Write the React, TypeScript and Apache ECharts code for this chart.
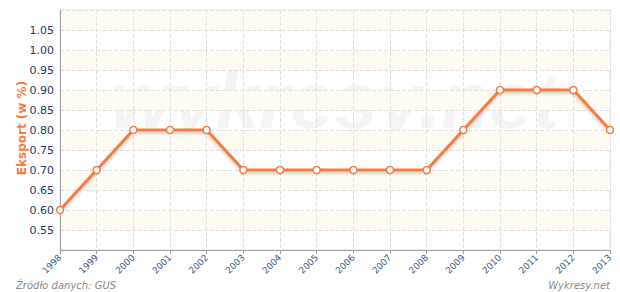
import React, { useEffect, useRef } from "react";
import * as echarts from "echarts";

const years = ["1998","1999","2000","2001","2002","2003","2004","2005","2006","2007","2008","2009","2010","2011","2012","2013"];
const eksport = [0.6, 0.7, 0.8, 0.8, 0.8, 0.7, 0.7, 0.7, 0.7, 0.7, 0.7, 0.8, 0.9, 0.9, 0.9, 0.8];
const yTitle = "Eksport (w %)";

export default function App() {
  const ref = useRef<HTMLDivElement>(null);
  useEffect(() => {
    document.body.style.margin = "0";
    const chart = echarts.init(ref.current!, null, { renderer: "svg" });
    const font = "DejaVu Sans";
    chart.setOption({
      animation: false,
      textStyle: { fontFamily: font },
      grid: { left: 60, right: 10, top: 10, bottom: 42, show: true, borderColor: "#e2e2e2", borderWidth: 1 },
      graphic: [
        {
          type: "text", left: 110, top: 61, z: 0, silent: true,
          style: { text: "wykresy.net", fontSize: 79, fontWeight: "bold", fontStyle: "italic", fontFamily: "Liberation Sans", fill: "rgba(0,0,0,0.045)" },
        },
        {
          type: "text", x: 22, y: 128, rotation: Math.PI / 2,
          style: { text: yTitle, fontSize: 12, fontWeight: "bold", fontFamily: font, fill: "#f47d42", align: "center", verticalAlign: "middle" },
        },
        {
          type: "text", left: 16, top: 280,
          style: { text: "Źródło danych: GUS", fontSize: 10, fontStyle: "italic", fontFamily: font, fill: "#8a8a8a" },
        },
        {
          type: "text", right: 10, top: 280,
          style: { text: "Wykresy.net", fontSize: 10, fontStyle: "italic", fontFamily: font, fill: "#8a8a8a" },
        },
      ],
      xAxis: {
        type: "category",
        data: years,
        boundaryGap: false,
        axisLine: { lineStyle: { color: "#a0a0a0", width: 1 } },
        axisTick: { show: true, length: 4, lineStyle: { color: "#a0a0a0" } },
        axisLabel: { rotate: 45, fontSize: 9, color: "#3b5b8c", margin: 6, fontFamily: font, interval: 0 },
        splitLine: { show: true, lineStyle: { color: "#e0e0e0", type: "dashed" } },
      },
      yAxis: {
        type: "value",
        min: 0.5,
        max: 1.1,
        interval: 0.05,
        axisLine: { show: true, lineStyle: { color: "#a0a0a0", width: 1 } },
        axisTick: { show: false },
        axisLabel: {
          fontSize: 11, color: "#1e3c68", margin: 6, fontFamily: font,
          formatter: (v: number) => (v < 0.51 || v > 1.09 ? "" : v.toFixed(2)),
        },
        splitLine: { show: true, lineStyle: { color: "#e0e0e0", type: "dashed" } },
        splitArea: { show: true, areaStyle: { color: ["rgba(255,255,255,0)", "#fffbf2"] } },
      },
      series: [
        {
          type: "line",
          data: eksport,
          symbol: "circle",
          symbolSize: 7,
          lineStyle: { color: "#f47d42", width: 3, shadowColor: "rgba(0,0,0,0.2)", shadowBlur: 3, shadowOffsetY: 2 },
          itemStyle: { color: "#ffffff", borderColor: "#f47d42", borderWidth: 1.5 },
          z: 5,
        },
      ],
    });
    return () => chart.dispose();
  }, []);
  return <div ref={ref} style={{ width: 620, height: 292 }} />;
}
